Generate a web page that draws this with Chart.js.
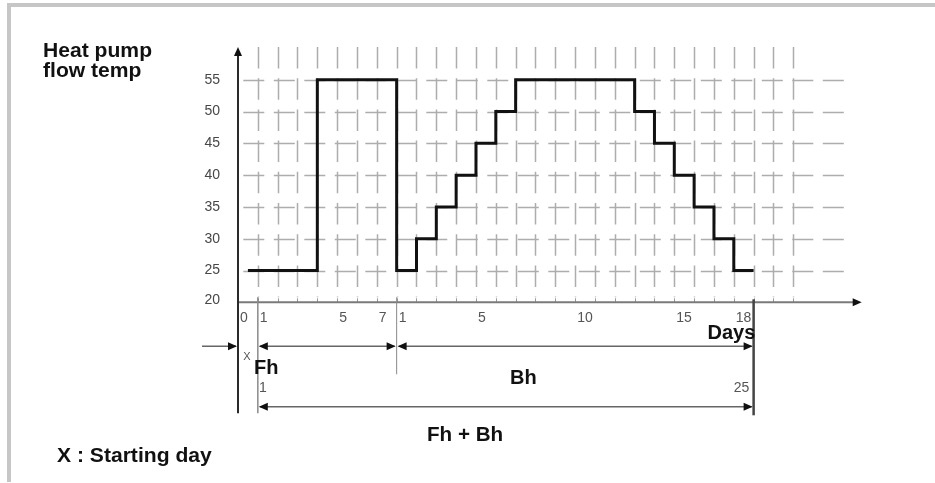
<!DOCTYPE html>
<html>
<head>
<meta charset="utf-8">
<script src="https://cdn.jsdelivr.net/npm/chart.js@4/dist/chart.umd.min.js"></script>
<style>
  html, body { margin: 0; padding: 0; background: #ffffff; }
  #wrap { width: 935px; height: 483px; position: relative; }
  canvas { display: block; }
</style>
</head>
<body>
<div id="wrap"><canvas id="c" width="935" height="483"></canvas></div>
<script>
// ---- data ----
// x is measured in grid days: -1 = day 0 (start), 0 = Fh day 1, 7 = Bh day 1, 25 = end
const stepDays = [-0.5, 3, 7, 8, 9, 10, 11, 12, 13, 19, 20, 21, 22, 23, 24, 25];
const flowTemp = [25, 55, 25, 30, 35, 40, 45, 50, 55, 50, 45, 40, 35, 30, 25, 25];
const yTickValues = [20, 25, 30, 35, 40, 45, 50, 55];
const yGridValues = [25, 30, 35, 40, 45, 50, 55];
const xTickPositions = [-1, 0, 4, 6, 7, 11, 16, 21, 24];
const xTickLabels = ['0', '1', '5', '7', '1', '5', '10', '15', '18'];
const gridDays = Array.from({length: 28}, (_, i) => i); // 0..27
const phaseStarts = { start: -1, fh: 0, bh: 7, end: 25 };
const fhBhLabels = ['1', '25'];

const FONT = '"Liberation Sans", Arial, sans-serif';

function arrowHead(ctx, x, y, dir) {
  ctx.beginPath();
  ctx.moveTo(x, y);
  ctx.lineTo(x - dir * 9, y - 4);
  ctx.lineTo(x - dir * 9, y + 4);
  ctx.closePath();
  ctx.fill();
}

function wideText(ctx, text, x, y, sx) {
  ctx.save();
  ctx.translate(x, y);
  ctx.scale(sx, 1);
  ctx.fillText(text, 0, 0);
  ctx.restore();
}

const decor = {
  id: 'decor',
  beforeDraw(chart) {
    const ctx = chart.ctx;
    ctx.save();
    ctx.fillStyle = '#c6c6c6';
    ctx.fillRect(7, 3, 935 - 7, 4);
    ctx.fillRect(7, 3, 4, 479);
    ctx.restore();
  },
  beforeDatasetsDraw(chart) {
    const ctx = chart.ctx;
    const xs = chart.scales.x, ys = chart.scales.y;
    const ca = chart.chartArea;
    ctx.save();
    ctx.strokeStyle = '#adadad';
    ctx.lineWidth = 1.5;
    // horizontal dashed grid
    ctx.setLineDash([21, 9.5]);
    ctx.lineDashOffset = 25.2;
    const xl = xs.getPixelForValue(phaseStarts.start);
    const xr = xs.getPixelForValue(29.65);
    yGridValues.forEach(v => {
      const y = Math.round(ys.getPixelForValue(v)) + 0.5;
      ctx.beginPath(); ctx.moveTo(xl, y); ctx.lineTo(xr, y); ctx.stroke();
    });
    // vertical dashed grid
    ctx.setLineDash([21.5, 9.7]);
    ctx.lineDashOffset = 0;
    const yt = ca.top - 1, yb = ca.bottom - 5;
    gridDays.forEach(d => {
      const x = Math.round(xs.getPixelForValue(d)) + 0.5;
      ctx.beginPath(); ctx.moveTo(x, yt); ctx.lineTo(x, yb); ctx.stroke();
    });
    ctx.setLineDash([]);
    // small ticks on the x axis
    ctx.strokeStyle = '#999';
    ctx.lineWidth = 1;
    gridDays.forEach(d => {
      const x = Math.round(xs.getPixelForValue(d)) + 0.5;
      ctx.beginPath(); ctx.moveTo(x, ca.bottom - 4); ctx.lineTo(x, ca.bottom); ctx.stroke();
    });
    ctx.restore();
  },
  afterDatasetsDraw(chart) {
    const ctx = chart.ctx;
    const xs = chart.scales.x, ys = chart.scales.y;
    const ca = chart.chartArea;
    const x0 = xs.getPixelForValue(phaseStarts.start);
    const xFh = xs.getPixelForValue(phaseStarts.fh);
    const xBh = xs.getPixelForValue(phaseStarts.bh);
    const xEnd = xs.getPixelForValue(phaseStarts.end);
    const yAxis = ys.getPixelForValue(20);
    ctx.save();
    // x axis
    ctx.strokeStyle = '#7a7a7a';
    ctx.lineWidth = 2;
    ctx.beginPath(); ctx.moveTo(x0, yAxis); ctx.lineTo(ca.right - 8, yAxis); ctx.stroke();
    ctx.fillStyle = '#111';
    arrowHead(ctx, ca.right, yAxis, 1);
    // y axis
    ctx.strokeStyle = '#2a2a2a';
    ctx.lineWidth = 2;
    ctx.beginPath(); ctx.moveTo(x0, ca.top + 8); ctx.lineTo(x0, yAxis + 111); ctx.stroke();
    ctx.beginPath();
    ctx.moveTo(x0, ca.top - 1);
    ctx.lineTo(x0 - 4, ca.top + 8);
    ctx.lineTo(x0 + 4, ca.top + 8);
    ctx.closePath(); ctx.fill();

    // vertical phase lines below the axis
    ctx.strokeStyle = '#8a8a8a';
    ctx.lineWidth = 1.5;
    ctx.beginPath(); ctx.moveTo(xFh, yAxis - 5); ctx.lineTo(xFh, yAxis + 111); ctx.stroke();
    ctx.lineWidth = 1;
    ctx.beginPath(); ctx.moveTo(xBh, yAxis - 5); ctx.lineTo(xBh, yAxis + 72); ctx.stroke();
    ctx.strokeStyle = '#444';
    ctx.lineWidth = 2.5;
    ctx.beginPath(); ctx.moveTo(xEnd, yAxis - 3); ctx.lineTo(xEnd, yAxis + 113); ctx.stroke();

    // arrows row 1
    const r1 = yAxis + 44;
    ctx.strokeStyle = '#666';
    ctx.lineWidth = 1.5;
    ctx.fillStyle = '#111';
    ctx.beginPath(); ctx.moveTo(x0 - 36, r1); ctx.lineTo(x0 - 2, r1); ctx.stroke();
    arrowHead(ctx, x0 - 1, r1, 1);
    ctx.beginPath(); ctx.moveTo(xFh + 2, r1); ctx.lineTo(xBh - 2, r1); ctx.stroke();
    arrowHead(ctx, xFh + 1, r1, -1);
    arrowHead(ctx, xBh - 1, r1, 1);
    ctx.beginPath(); ctx.moveTo(xBh + 2, r1); ctx.lineTo(xEnd - 2, r1); ctx.stroke();
    arrowHead(ctx, xBh + 1, r1, -1);
    arrowHead(ctx, xEnd - 1, r1, 1);
    // arrows row 2
    const r2 = yAxis + 104.5;
    ctx.beginPath(); ctx.moveTo(xFh + 2, r2); ctx.lineTo(xEnd - 2, r2); ctx.stroke();
    arrowHead(ctx, xFh + 1, r2, -1);
    arrowHead(ctx, xEnd - 1, r2, 1);

    // y tick labels
    ctx.fillStyle = '#474747';
    ctx.font = '14px ' + FONT;
    ctx.textAlign = 'right';
    ctx.textBaseline = 'middle';
    yTickValues.forEach(v => {
      ctx.fillText(String(v), x0 - 18, ys.getPixelForValue(v) - (v === 20 ? 2 : 0));
    });
    // x tick labels
    ctx.fillStyle = '#555';
    ctx.textAlign = 'left';
    xTickPositions.forEach((p, i) => {
      ctx.fillText(xTickLabels[i], xs.getPixelForValue(p) + 2, yAxis + 16);
    });
    // Fh+Bh numbers
    ctx.textAlign = 'center';
    ctx.fillText(fhBhLabels[0], xFh + 5, yAxis + 86);
    ctx.fillText(fhBhLabels[1], xEnd - 12, yAxis + 86);
    // X
    ctx.font = '11px ' + FONT;
    ctx.fillText('X', x0 + 9, yAxis + 55);

    // bold labels
    ctx.fillStyle = '#111';
    ctx.font = 'bold 20px ' + FONT;
    ctx.textAlign = 'left';
    ctx.textBaseline = 'alphabetic';
    wideText(ctx, 'Heat pump', 43, 56.7, 1.055);
    wideText(ctx, 'flow temp', 43, 77.3, 1.055);
    ctx.fillText('Days', 707.5, 339);
    ctx.fillText('Fh', 254, 374);
    ctx.fillText('Bh', 510, 384.3);
    wideText(ctx, 'Fh + Bh', 427, 440.7, 1.03);
    wideText(ctx, 'X : Starting day', 57, 461.7, 1.055);
    ctx.restore();
  }
};

new Chart(document.getElementById('c'), {
  type: 'line',
  data: {
    datasets: [{
      label: 'Heat pump flow temp',
      data: stepDays.map((d, i) => ({ x: d, y: flowTemp[i] })),
      stepped: 'before',
      borderColor: '#111',
      borderWidth: 3,
      borderJoinStyle: 'miter',
      pointRadius: 0,
      fill: false
    }]
  },
  options: {
    responsive: false,
    devicePixelRatio: 1,
    animation: false,
    layout: { padding: { left: 238, right: 73.3, top: 48, bottom: 180.7 } },
    plugins: { legend: { display: false }, tooltip: { enabled: false } },
    scales: {
      x: { type: 'linear', min: -1, max: 30.45, display: false },
      y: { type: 'linear', min: 20, max: 60, display: false }
    }
  },
  plugins: [decor]
});
</script>
</body>
</html>
